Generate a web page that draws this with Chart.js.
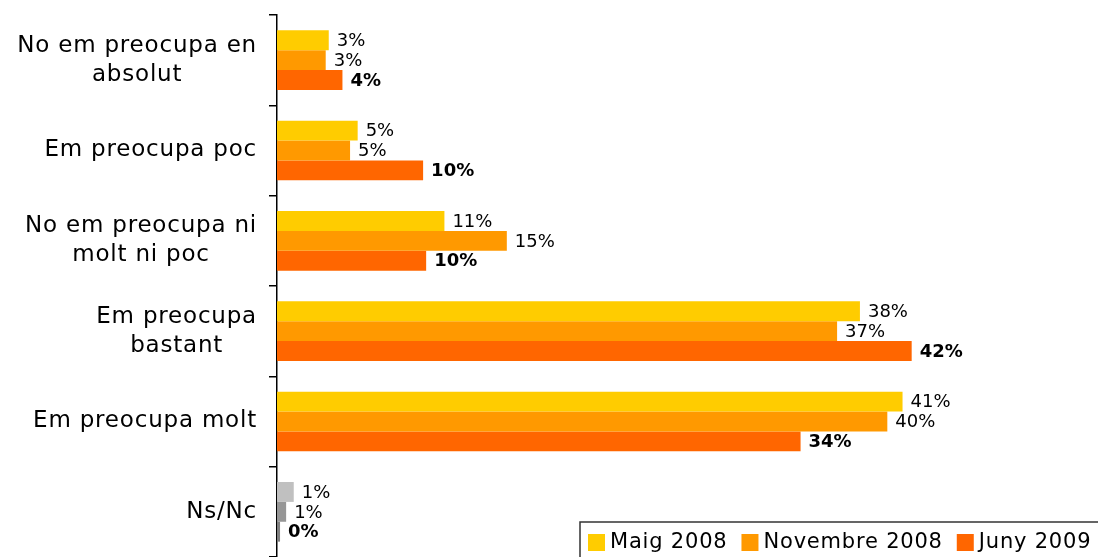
<!DOCTYPE html>
<html>
<head>
<meta charset="utf-8">
<script src="https://cdn.jsdelivr.net/npm/chart.js@4/dist/chart.umd.min.js"></script>
<style>
    html, body { margin: 0; padding: 0; background: #fff; }
    #wrap { width: 1098px; height: 557px; position: relative; }
</style>
</head>
<body>
<div id="wrap"><canvas id="myChart"></canvas></div>
<script>
const categories = [
    ['No em preocupa en', 'absolut'],
    'Em preocupa poc',
    ['No em preocupa ni', 'molt ni poc'],
    ['Em preocupa', 'bastant'],
    'Em preocupa molt',
    'Ns/Nc'
];
const seriesNames = ['Maig 2008', 'Novembre 2008', 'Juny 2009'];
const maig2008 = [3.4, 5.3, 11.0, 38.3, 41.1, 1.1];
const novembre2008 = [3.2, 4.8, 15.1, 36.8, 40.1, 0.6];
const juny2009 = [4.3, 9.6, 9.8, 41.7, 34.4, 0.2];

const seriesColors = ['#FFCC00', '#FF9900', '#FF6600'];
const nsncColors = ['#C0C0C0', '#969696', '#808080'];
const fontFamily = '"DejaVu Sans", Verdana, sans-serif';

function barColors(i) {
    return categories.map((c, j) => j === categories.length - 1 ? nsncColors[i] : seriesColors[i]);
}

// category labels: block right aligned, lines centred inside the block
const categoryLabels = {
    id: 'categoryLabels',
    afterDraw(chart) {
        const ctx = chart.ctx;
        const yScale = chart.scales.y;
        const right = yScale.right - 20;
        const lineH = 29;
        ctx.save();
        ctx.font = '23px ' + fontFamily;
        ctx.letterSpacing = '0.8px';
        ctx.fillStyle = '#000';
        ctx.textAlign = 'center';
        ctx.textBaseline = 'middle';
        categories.forEach((label, i) => {
            const lines = Array.isArray(label) ? label : [label];
            const maxW = Math.max(...lines.map(l => ctx.measureText(l).width));
            const cx = right - maxW / 2;
            const cy = yScale.getPixelForTick(i);
            lines.forEach((l, k) => {
                ctx.fillText(l, cx, cy + (k - (lines.length - 1) / 2) * lineH);
            });
        });
        ctx.restore();
    }
};

// value labels to the right of each bar
const valueLabels = {
    id: 'valueLabels',
    afterDatasetsDraw(chart) {
        const ctx = chart.ctx;
        ctx.save();
        ctx.textBaseline = 'middle';
        ctx.textAlign = 'left';
        ctx.fillStyle = '#000';
        chart.data.datasets.forEach((ds, i) => {
            ctx.font = (i === 2 ? 'bold ' : '') + '18px ' + fontFamily;
            chart.getDatasetMeta(i).data.forEach((bar, j) => {
                ctx.fillText(Math.round(ds.data[j]) + '%', bar.x + 8, bar.y + 1);
            });
        });
        ctx.restore();
    }
};

// boxed legend in the bottom right corner
const boxLegend = {
    id: 'boxLegend',
    afterDraw(chart) {
        const ctx = chart.ctx;
        ctx.save();
        ctx.fillStyle = '#fff';
        ctx.fillRect(580, 522, 530, 40);
        ctx.strokeStyle = '#333';
        ctx.lineWidth = 1.5;
        ctx.strokeRect(580, 522, 530, 40);
        ctx.font = '21px ' + fontFamily;
        ctx.letterSpacing = '0.8px';
        ctx.textBaseline = 'middle';
        let x = 588;
        chart.data.datasets.forEach((ds, i) => {
            ctx.fillStyle = seriesColors[i];
            ctx.fillRect(x, 534, 17, 17);
            ctx.fillStyle = '#000';
            ctx.fillText(ds.label, x + 22, 543);
            x += 22 + ctx.measureText(ds.label).width + 14;
        });
        ctx.restore();
    }
};

const ctx = document.getElementById('myChart');
new Chart(ctx, {
    type: 'bar',
    data: {
        labels: categories,
        datasets: [
            { label: seriesNames[0], data: maig2008, backgroundColor: barColors(0) },
            { label: seriesNames[1], data: novembre2008, backgroundColor: barColors(1) },
            { label: seriesNames[2], data: juny2009, backgroundColor: barColors(2) }
        ]
    },
    options: {
        indexAxis: 'y',
        responsive: true,
        maintainAspectRatio: false,
        animation: false,
        datasets: {
            bar: { categoryPercentage: 0.66, barPercentage: 1.0 }
        },
        layout: { padding: { top: 15, right: 60, bottom: 0, left: 0 } },
        plugins: {
            legend: { display: false },
            tooltip: { enabled: false }
        },
        scales: {
            x: {
                display: false,
                min: 0,
                max: 50
            },
            y: {
                afterFit(scale) {
                    scale.width = 277;
                    scale.paddingTop = 0;
                    scale.paddingBottom = 0;
                },
                border: { display: true, color: '#000', width: 1.5 },
                grid: {
                    drawOnChartArea: false,
                    drawTicks: true,
                    tickLength: 8,
                    color: '#000',
                    lineWidth: 1.5
                },
                ticks: { display: false }
            }
        }
    },
    plugins: [categoryLabels, valueLabels, boxLegend]
});
</script>
</body>
</html>
